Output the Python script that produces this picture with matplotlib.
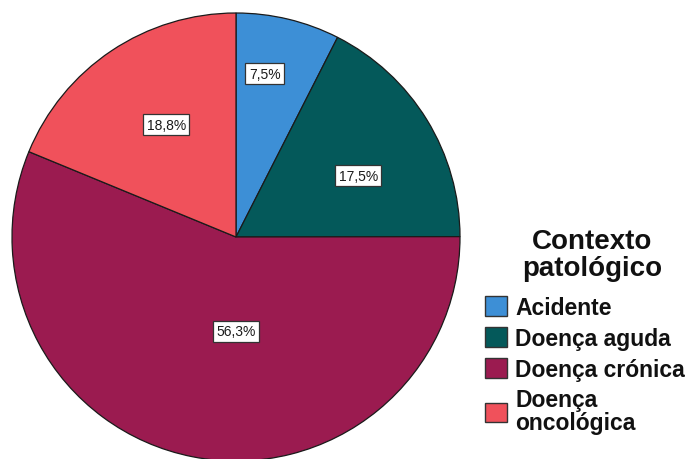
import matplotlib
matplotlib.use("Agg")
import matplotlib.pyplot as plt
from matplotlib.patches import Patch
import numpy as np

plt.rcParams['font.family'] = ['Liberation Sans', 'DejaVu Sans']

categories = ["Acidente", "Doença aguda", "Doença crónica", "Doença\noncológica"]
percentages = [7.5, 17.5, 56.3, 18.8]
colors = ["#3D8FD6", "#04595A", "#9B1B50", "#F0515B"]
label_radius = [0.74, 0.61, 0.42, 0.59]
label_shift_deg = [3.5, -5.0, 11.0, -2.0]

fig = plt.figure(figsize=(6.93, 4.60), dpi=100)
ax = fig.add_axes([12 / 693, -2 / 460, 448 / 693, 448 / 460])

wedges, _ = ax.pie(percentages, colors=colors, startangle=90, counterclock=False,
                   radius=1.0, center=(0, 0),
                   wedgeprops=dict(edgecolor="#1a1a1a", linewidth=0.9))
ax.set_xlim(-1, 1)
ax.set_ylim(-1, 1)
ax.set_aspect("equal")
ax.axis("off")

for w, p, r, s in zip(wedges, percentages, label_radius, label_shift_deg):
    mid = np.deg2rad((w.theta1 + w.theta2) / 2 + s)
    ax.text(r * np.cos(mid), r * np.sin(mid), f"{p:.1f}%".replace(".", ","),
            ha="center", va="center", fontsize=10, color="#1a1a1a",
            bbox=dict(boxstyle="square,pad=0.25", fc="white", ec="#333333", lw=0.9))

# legend title drawn separately so it can sit centred above the entries
fig.text(592 / 693, 1 - 256 / 460, "Contexto\npatológico", ha="center", va="center",
         multialignment="center", fontsize=20, fontweight="bold", color="#111111",
         linespacing=1.05)

handles = [Patch(facecolor=c, edgecolor="#333333", linewidth=1.0) for c in colors]
leg = fig.legend(handles, categories,
                 loc="upper left", bbox_to_anchor=(485 / 693, 1 - 297 / 460),
                 frameon=False, handlelength=0.95, handleheight=0.95,
                 handletextpad=0.38, labelspacing=0.34, borderaxespad=0, borderpad=0,
                 prop=dict(size=16.5, weight="bold"))
for t in leg.get_texts():
    t.set_color("#111111")
    t.set_linespacing(1.0)

fig.savefig("out.png", dpi=100, facecolor="white")
